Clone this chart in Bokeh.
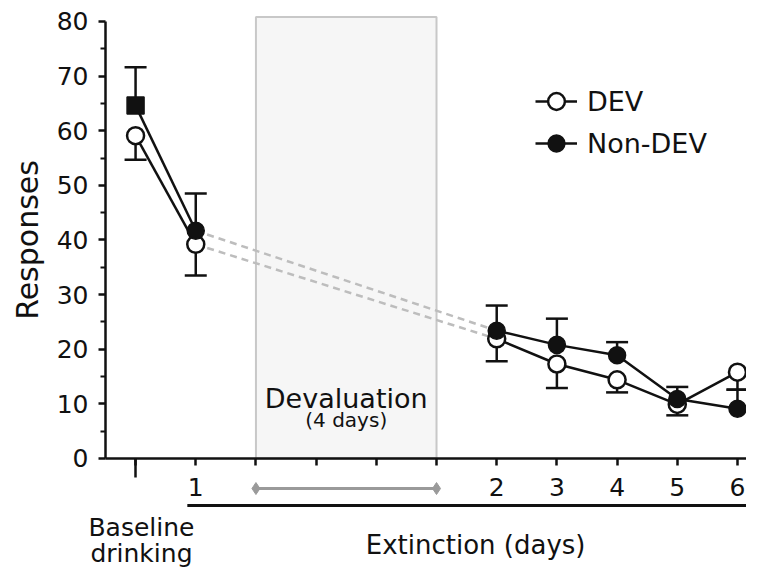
import math
from bokeh.plotting import figure
from bokeh.models import (ColumnDataSource, Whisker, TeeHead, LinearAxis, FixedTicker,
                          Legend, LegendItem, Range1d)
from bokeh.core.properties import value
from bokeh.embed import file_html
from bokeh.resources import INLINE

# ---- data ----
day_labels = ["", "1", "2", "3", "4", "5", "6"]          # baseline, extinction days
day_pos = [0, 1, 6, 7, 8, 9, 10]
deval_pos = [2, 3, 4, 5]                                  # 4 devaluation days (unlabelled)
dev_mean = [59.1, 39.2, 21.9, 17.3, 14.4, 9.9, 15.8]
dev_err = [4.4, 5.7, 4.1, 4.4, 2.3, 2.0, 3.2]
nondev_mean = [64.6, 41.7, 23.4, 20.8, 18.9, 10.9, 9.1]
nondev_err = [7.0, 6.8, 4.6, 4.8, 2.4, 2.2, 3.5]
nondev_markers = ["square", "circle", "circle", "circle", "circle", "circle", "circle"]
y_ticks = [0, 10, 20, 30, 40, 50, 60, 70, 80]
y_minor = [5, 15, 25, 35, 45, 55, 65, 75]

FONT = "DejaVu Sans"
INK = "#111111"
X0 = -0.5   # where the y axis sits

p = figure(width=746, height=569, output_backend="svg", toolbar_location=None,
           x_range=Range1d(-2.244, 10.15), y_range=Range1d(-20.32, 83.84),
           min_border_left=0, min_border_right=0, min_border_top=0, min_border_bottom=0)
p.grid.visible = False
p.outline_line_color = None
p.background_fill_color = "white"

# ---- y axis (drawn at x = X0) ----
ya = p.yaxis[0]
ya.fixed_location = X0
ya.bounds = (0, 80)
ya.ticker = FixedTicker(ticks=y_ticks, minor_ticks=y_minor)
ya.major_tick_out = 7
ya.major_tick_in = 0
ya.minor_tick_out = 5
ya.minor_tick_in = 0
ya.axis_line_width = 2.5
ya.major_tick_line_width = 2.5
ya.minor_tick_line_width = 2
ya.axis_line_color = INK
ya.major_tick_line_color = INK
ya.minor_tick_line_color = INK
ya.major_label_text_font = FONT
ya.major_label_text_font_size = "25px"
ya.major_label_text_color = INK
ya.major_label_standoff = 10

p.text(x=[-1.796], y=[40], text=["Responses"], angle=math.pi / 2,
       text_font=value(FONT), text_font_size="30px", text_color=INK,
       text_align="center", text_baseline="middle")

# ---- x axis at y = 0 ----
all_ticks = day_pos + deval_pos
overrides = {pos: lab for pos, lab in zip(day_pos, day_labels)}
overrides.update({pos: "" for pos in deval_pos})
xa = p.xaxis[0]
xa.fixed_location = 0
xa.bounds = (X0, 10.5)
xa.ticker = FixedTicker(ticks=sorted(all_ticks), minor_ticks=[])
xa.major_label_overrides = overrides
xa.major_tick_out = 7
xa.major_tick_in = 0
xa.axis_line_width = 2.5
xa.major_tick_line_width = 2.5
xa.axis_line_color = INK
xa.major_tick_line_color = INK
xa.major_label_text_font = FONT
xa.major_label_text_font_size = "25px"
xa.major_label_text_color = INK
xa.major_label_standoff = 13

# longer tick for baseline
xb = LinearAxis(fixed_location=0, ticker=FixedTicker(ticks=[day_pos[0]], minor_ticks=[]),
                major_tick_out=19, major_tick_in=0, major_tick_line_width=2.5,
                major_tick_line_color=INK, axis_line_color=None,
                major_label_text_alpha=0, major_label_text_font_size="1px")
p.add_layout(xb, "below")

# ---- devaluation box ----
p.quad(left=[deval_pos[0]], right=[deval_pos[-1]], bottom=[0], top=[80.8],
       fill_color="#f6f6f6", line_color="#c8c8c8", line_width=2)

# ---- dashed bridges across devaluation ----
p.line([day_pos[1], day_pos[2]], [nondev_mean[1], nondev_mean[2]],
       line_color="#bdbdbd", line_width=2.5, line_dash="7 5")
p.line([day_pos[1], day_pos[2]], [dev_mean[1], dev_mean[2]],
       line_color="#bdbdbd", line_width=2.5, line_dash="7 5")

# ---- error bars ----
nd_src = ColumnDataSource(dict(x=day_pos, lo=nondev_mean,
                               hi=[m + e for m, e in zip(nondev_mean, nondev_err)]))
d_src = ColumnDataSource(dict(x=day_pos, hi=dev_mean,
                              lo=[m - e for m, e in zip(dev_mean, dev_err)]))
p.add_layout(Whisker(base="x", lower="lo", upper="hi", source=nd_src,
                     upper_head=TeeHead(size=22, line_width=2.5, line_color=INK),
                     lower_head=None, line_width=2.5, line_color=INK))
p.add_layout(Whisker(base="x", lower="lo", upper="hi", source=d_src,
                     lower_head=TeeHead(size=22, line_width=2.5, line_color=INK),
                     upper_head=None, line_width=2.5, line_color=INK))

# ---- series lines ----
nd_l1 = p.line(day_pos[:2], nondev_mean[:2], line_color=INK, line_width=2.5)
nd_l2 = p.line(day_pos[2:], nondev_mean[2:], line_color=INK, line_width=2.5)
d_l1 = p.line(day_pos[:2], dev_mean[:2], line_color=INK, line_width=2.5)
d_l2 = p.line(day_pos[2:], dev_mean[2:], line_color=INK, line_width=2.5)

d_pts = p.scatter(day_pos, dev_mean, marker="circle", size=17,
                  fill_color="white", line_color=INK, line_width=2.5)
nd_pts = p.scatter(x=day_pos, y=nondev_mean, marker=nondev_markers, size=17,
                   fill_color=INK, line_color=INK, line_width=1.5)

# ---- texts ----
p.text(x=[3.5], y=[11.0], text=["Devaluation"], text_font=value(FONT),
       text_font_size="27px", text_align="center", text_baseline="middle", text_color=INK)
p.text(x=[3.5], y=[7.1], text=["(4 days)"], text_font=value(FONT),
       text_font_size="20px", text_align="center", text_baseline="middle", text_color=INK)

# grey double arrow under the devaluation period
p.segment(x0=[deval_pos[0]], y0=[-5.5], x1=[deval_pos[-1]], y1=[-5.5],
          line_color="#9a9a9a", line_width=3)
p.scatter([deval_pos[0], deval_pos[-1]], [-5.5, -5.5], marker="diamond", size=12,
          fill_color="#9a9a9a", line_color="#9a9a9a")

# black line under extinction days
p.segment(x0=[0.86], y0=[-8.6], x1=[10.4], y1=[-8.6], line_color=INK, line_width=3)

p.text(x=[0.098, 0.098], y=[-12.6, -17.4], text=["Baseline", "drinking"],
       text_font=value(FONT), text_font_size="25px", text_color=INK,
       text_align="center", text_baseline="middle")
p.text(x=[5.65], y=[-15.9], text=["Extinction (days)"], text_font=value(FONT),
       text_font_size="26px", text_align="center", text_baseline="middle", text_color=INK)

# ---- legend ----
legend = Legend(items=[LegendItem(label="DEV", renderers=[d_l2, d_pts], index=1),
                       LegendItem(label="Non-DEV", renderers=[nd_l2, nd_pts], index=1)],
                location=(535, 405), glyph_width=42, glyph_height=42, spacing=0,
                padding=0, margin=0, label_standoff=10,
                label_text_font=FONT, label_text_font_size="27px", label_text_color=INK,
                border_line_alpha=0, background_fill_alpha=0)
p.add_layout(legend)

open("out.html", "w").write(file_html(p, INLINE))
